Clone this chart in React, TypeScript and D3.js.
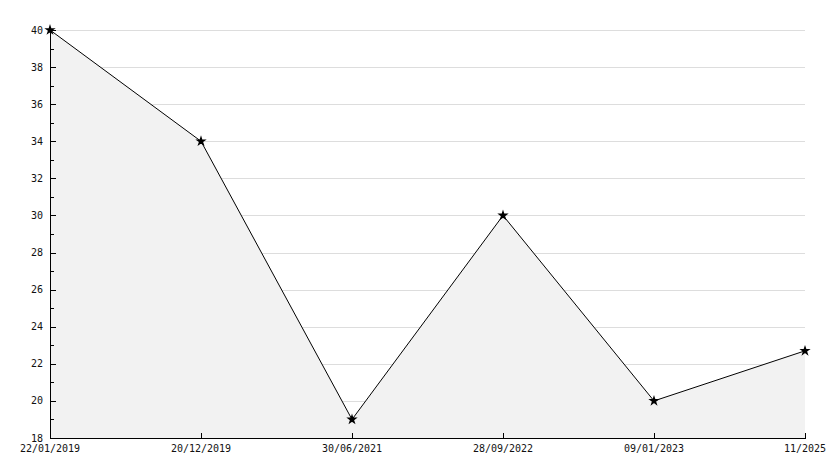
import React from "react";
import * as d3 from "d3";

const categories = ["22/01/2019", "20/12/2019", "30/06/2021", "28/09/2022", "09/01/2023", "11/2025"];
const values = [40, 34, 19, 30, 20, 22.7];
const yMajorTicks = [18, 20, 22, 24, 26, 28, 30, 32, 34, 36, 38, 40];
const yMinorTicks = [19, 21, 23, 25, 27, 29, 31, 33, 35, 37, 39];

export default function App() {
  const W = 834, H = 468;
  const left = 50, right = 805, top = 30, bottom = 438;
  const x = d3.scalePoint<string>().domain(categories).range([left, right]).padding(0);
  const y = d3.scaleLinear().domain([18, 40]).range([bottom, top]);
  const pts: [number, number][] = categories.map((c, i) => [x(c)!, y(values[i])]);
  const line = d3.line<[number, number]>().x(d => d[0]).y(d => d[1]);
  const area = d3.area<[number, number]>().x(d => d[0]).y0(bottom).y1(d => d[1]);
  const star = d3.symbol().type(d3.symbolStar).size(14)();
  const font = "'DejaVu Sans Mono', monospace";
  return (
    <svg width={W} height={H} style={{ position: "absolute", left: 0, top: 0, background: "#fff" }}>
      {yMajorTicks.map(t => (
        <line key={"g" + t} x1={left} x2={right} y1={Math.round(y(t)) + 0.5} y2={Math.round(y(t)) + 0.5} stroke="#dddddd" strokeWidth={1} />
      ))}
      <path d={area(pts)!} fill="#f2f2f2" stroke="none" />
      <path d={line(pts)!} fill="none" stroke="#000" strokeWidth={1} />
      {pts.map((p, i) => (
        <path key={"m" + i} d={star} transform={`translate(${p[0]},${p[1]})`} fill="#000" stroke="#000" strokeWidth={1.5} />
      ))}
      <line x1={left + 0.5} x2={left + 0.5} y1={top} y2={bottom + 1} stroke="#000" />
      <line x1={left} x2={right + 1} y1={bottom + 0.5} y2={bottom + 0.5} stroke="#000" />
      {yMajorTicks.map(t => (
        <g key={"yt" + t}>
          <line x1={left} x2={left + 6} y1={Math.round(y(t)) + 0.5} y2={Math.round(y(t)) + 0.5} stroke="#000" />
          <text x={43} y={y(t)} dy="0.35em" textAnchor="end" fontFamily={font} fontSize={10} fill="#111">{t}</text>
        </g>
      ))}
      {yMinorTicks.map(t => (
        <line key={"ym" + t} x1={left} x2={left + 4} y1={Math.round(y(t)) + 0.5} y2={Math.round(y(t)) + 0.5} stroke="#000" />
      ))}
      {categories.map(c => (
        <g key={"xt" + c}>
          <line x1={Math.round(x(c)!) + 0.5} x2={Math.round(x(c)!) + 0.5} y1={bottom} y2={bottom - 5} stroke="#000" />
          <text x={x(c)!} y={452} textAnchor="middle" fontFamily={font} fontSize={10} fill="#111">{c}</text>
        </g>
      ))}
    </svg>
  );
}
